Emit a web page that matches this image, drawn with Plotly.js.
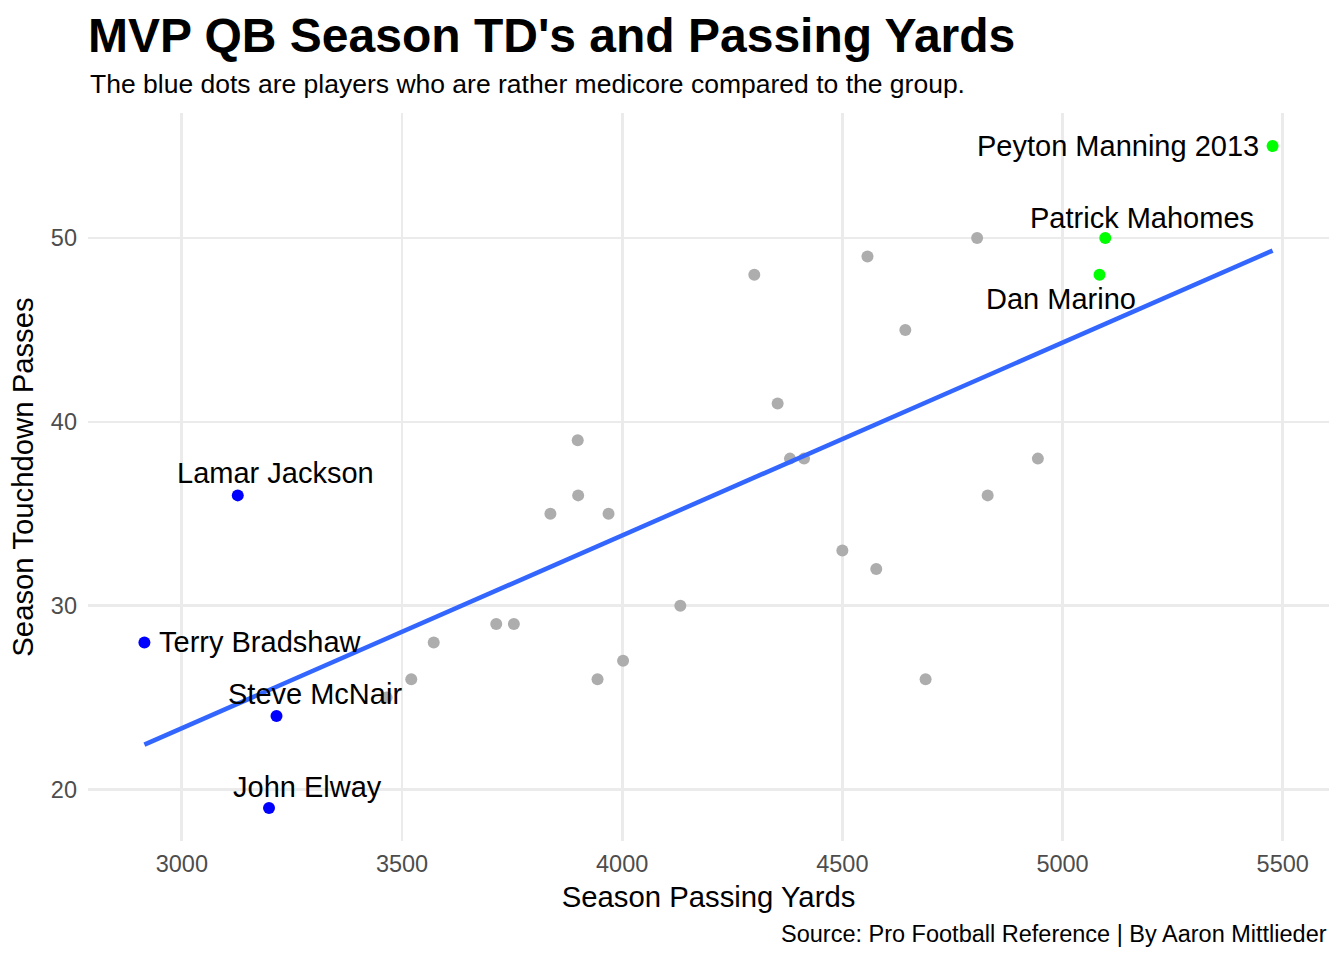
<!DOCTYPE html>
<html>
<head>
<meta charset="utf-8">
<script src="https://cdn.plot.ly/plotly-3.0.1.min.js"></script>
<style>
  html, body { margin: 0; padding: 0; background: #ffffff; }
  #chart { width: 1344px; height: 960px; }
</style>
</head>
<body>
<div id="chart"></div>
<script>
// ---- Data ----
const otherYards = [4300, 4557, 4806, 4643, 4353, 3899, 4381, 4413, 4944, 4830, 3900, 3837, 3969, 4500, 4577, 4132, 3714, 3754, 3572, 4002, 3521, 3944, 4689, 3465];
const otherTDs   = [48,   49,   50,   45,   41,   39,   38,   38,   38,   36,   36,   35,   35,   33,   32,   30,   29,   29,   28,   27,   26,   26,   26,   25];

const blueNames = ["Lamar Jackson", "Terry Bradshaw", "Steve McNair", "John Elway"];
const blueYards = [3127, 2915, 3215, 3198];
const blueTDs   = [36, 28, 24, 19];

const greenNames = ["Peyton Manning 2013", "Patrick Mahomes", "Dan Marino"];
const greenYards = [5477, 5097, 5084];
const greenTDs   = [55, 50, 48];

const xTicks = [3000, 3500, 4000, 4500, 5000, 5500];
const yTicks = [20, 30, 40, 50];

// ---- Label placement styles (pixel offsets from each point) ----
const labelStyle = {
  "Lamar Jackson":       {xshift: 38,  yshift: 22,  xanchor: "center"},
  "Terry Bradshaw":      {xshift: 13,  yshift: 0,   xanchor: "left"},
  "Steve McNair":        {xshift: 38,  yshift: 22,  xanchor: "center"},
  "John Elway":          {xshift: 38,  yshift: 21,  xanchor: "center"},
  "Peyton Manning 2013": {xshift: -12, yshift: 0,   xanchor: "right"},
  "Patrick Mahomes":     {xshift: 37,  yshift: 20,  xanchor: "center"},
  "Dan Marino":          {xshift: -39, yshift: -24, xanchor: "center"}
};

// ---- Derived: linear fit over all points ----
const allX = otherYards.concat(blueYards, greenYards);
const allY = otherTDs.concat(blueTDs, greenTDs);
const n = allX.length;
const mx = allX.reduce((a, b) => a + b, 0) / n;
const my = allY.reduce((a, b) => a + b, 0) / n;
let sxy = 0, sxx = 0;
for (let i = 0; i < n; i++) { sxy += (allX[i] - mx) * (allY[i] - my); sxx += (allX[i] - mx) ** 2; }
const slope = sxy / sxx;
const intercept = my - slope * mx;
const xMin = Math.min(...allX), xMax = Math.max(...allX);
const yMin = Math.min(...allY), yMax = Math.max(...allY);
const fitX = [xMin, xMax];
const fitY = fitX.map(x => intercept + slope * x);

// ggplot-style 5% expansion
const xPad = (xMax - xMin) * 0.05, yPad = (yMax - yMin) * 0.05;

const FONT = "Liberation Sans, Arial, Helvetica, sans-serif";

const traces = [
  {
    type: "scatter", mode: "markers", x: otherYards, y: otherTDs,
    marker: {color: "#ADADAD", size: 12}, hoverinfo: "skip", showlegend: false
  },
  {
    type: "scatter", mode: "lines", x: fitX, y: fitY,
    line: {color: "#3366FF", width: 4.5}, hoverinfo: "skip", showlegend: false
  },
  {
    type: "scatter", mode: "markers", x: blueYards, y: blueTDs,
    marker: {color: "#0000FF", size: 12}, hoverinfo: "skip", showlegend: false
  },
  {
    type: "scatter", mode: "markers", x: greenYards, y: greenTDs,
    marker: {color: "#00FF00", size: 12}, hoverinfo: "skip", showlegend: false
  }
];

const annotations = [];
function addLabels(names, xs, ys) {
  names.forEach((nm, i) => {
    const s = labelStyle[nm];
    annotations.push({
      x: xs[i], y: ys[i], xref: "x", yref: "y", text: nm, showarrow: false,
      xanchor: s.xanchor, yanchor: "middle", xshift: s.xshift, yshift: s.yshift,
      font: {family: FONT, size: 29, color: "#000000"}
    });
  });
}
addLabels(blueNames, blueYards, blueTDs);
addLabels(greenNames, greenYards, greenTDs);

annotations.push({
  text: "The blue dots are players who are rather medicore compared to the group.",
  xref: "paper", yref: "paper", x: 0, y: 1, xanchor: "left", yanchor: "middle",
  yshift: 29, showarrow: false,
  font: {family: FONT, size: 26.5, color: "#000000"}
});
annotations.push({
  text: "Source: Pro Football Reference | By Aaron Mittlieder",
  xref: "paper", yref: "paper", x: 1, y: 0, xanchor: "right", yanchor: "middle",
  yshift: -93, showarrow: false,
  font: {family: FONT, size: 23.5, color: "#000000"}
});

const layout = {
  width: 1344, height: 960,
  margin: {l: 88, r: 15, t: 113, b: 119, pad: 0},
  paper_bgcolor: "#ffffff", plot_bgcolor: "#ffffff",
  font: {family: FONT},
  title: {
    text: "<b>MVP QB Season TD's and Passing Yards</b>",
    x: 88 / 1344, xanchor: "left", xref: "container",
    y: 1 - 35 / 960, yanchor: "middle", yref: "container",
    font: {family: FONT, size: 48, color: "#000000"}
  },
  xaxis: {
    range: [xMin - xPad, xMax + xPad],
    tickvals: xTicks, ticktext: xTicks.map(String),
    showgrid: true, gridcolor: "#EBEBEB", gridwidth: 2.7,
    zeroline: false, showline: false, ticks: "",
    ticklabelstandoff: 6,
    tickfont: {family: FONT, size: 23.5, color: "#4D4D4D"},
    title: {text: "Season Passing Yards", standoff: 10, font: {family: FONT, size: 29.3, color: "#000000"}}
  },
  yaxis: {
    range: [yMin - yPad, yMax + yPad],
    tickvals: yTicks, ticktext: yTicks.map(String),
    showgrid: true, gridcolor: "#EBEBEB", gridwidth: 2.7,
    zeroline: false, showline: false, ticks: "",
    ticklabelstandoff: 10,
    tickfont: {family: FONT, size: 23.5, color: "#4D4D4D"},
    title: {text: "Season Touchdown Passes", standoff: 8, font: {family: FONT, size: 29.3, color: "#000000"}}
  },
  annotations: annotations,
  showlegend: false
};

Plotly.newPlot("chart", traces, layout, {displayModeBar: false, staticPlot: true});
</script>
</body>
</html>
